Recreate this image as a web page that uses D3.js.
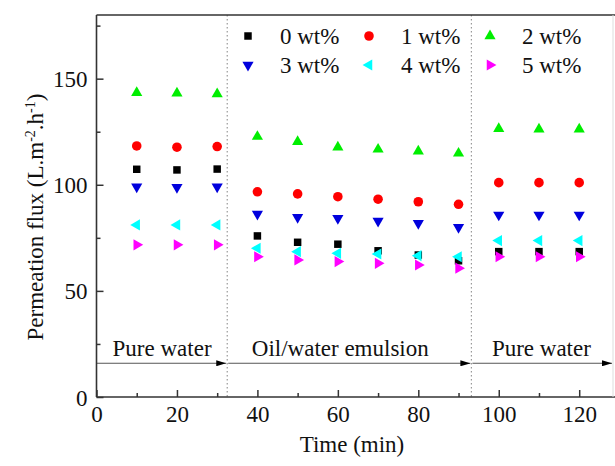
<!DOCTYPE html>
<html>
<head>
<meta charset="utf-8">
<script src="https://cdn.jsdelivr.net/npm/d3@7"></script>
<style>
  body { margin: 0; background: #fff; }
  svg { display: block; font-family: "Liberation Serif", "Times New Roman", serif; }
</style>
</head>
<body>
<div class="canvas"></div>
<script>
// time points (min)
const times = [10, 20, 30, 40, 50, 60, 70, 80, 90, 100, 110, 120];

// permeation flux for each membrane loading
const wt0 = [107.3, 107.0, 107.4, 75.9, 72.9, 72.0, 68.9, 66.9, 64.2, 68.5, 68.5, 68.5];
const wt1 = [118.3, 117.7, 118.0, 96.7, 95.7, 94.4, 93.2, 92.0, 90.8, 101.0, 101.0, 101.0];
const wt2 = [143.4, 143.1, 142.8, 122.7, 120.3, 117.7, 116.7, 115.8, 114.8, 126.4, 126.2, 126.2];
const wt3 = [99.1, 98.8, 99.1, 86.2, 84.7, 84.2, 82.9, 81.9, 80.0, 85.8, 85.8, 85.8];
const wt4 = [81.1, 81.1, 81.1, 70.1, 68.5, 67.7, 67.4, 66.6, 66.1, 73.7, 73.7, 73.7];
const wt5 = [71.7, 71.7, 71.7, 66.1, 64.6, 63.8, 63.0, 62.2, 60.7, 66.1, 66.1, 66.1];

const seriesNames = ['0 wt%', '1 wt%', '2 wt%', '3 wt%', '4 wt%', '5 wt%'];
const seriesValues = [wt0, wt1, wt2, wt3, wt4, wt5];

// stage boundaries and labels
const stageBounds = [0, 32.5, 93.2, 128.4];
const stageLabels = ['Pure water', 'Oil/water emulsion', 'Pure water'];
const stageLabelX = [16.3, 60.6, 110.6];

const xTicksMajor = [0, 20, 40, 60, 80, 100, 120];
const yTicksMajor = [0, 50, 100, 150];

const W = 615, H = 466;
const svg = d3.select('.canvas').append('svg')
    .attr('width', W).attr('height', H);

const x = d3.scaleLinear().domain([0, 128.4]).range([96.5, 613]);
const y = d3.scaleLinear().domain([0, 180]).range([397, 15]);

const colors = ['#000000', '#ff0000', '#00ee00', '#0000dd', '#00ffff', '#ff00ff'];
const shapes = [
    {type: d3.symbolSquare, size: 56, rot: 0},
    {type: d3.symbolCircle, size: 72, rot: 0},
    {type: d3.symbolTriangle, size: 54, rot: 0},
    {type: d3.symbolTriangle, size: 54, rot: 180},
    {type: d3.symbolTriangle, size: 54, rot: -90},
    {type: d3.symbolTriangle, size: 54, rot: 90}
];

// dotted stage separators
svg.selectAll('line.sep')
    .data(stageBounds.slice(1, 3))
    .enter().append('line')
    .attr('x1', d => x(d)).attr('x2', d => x(d))
    .attr('y1', y(180)).attr('y2', y(0))
    .attr('stroke', '#999').attr('stroke-width', 1.2)
    .attr('stroke-dasharray', '1.5,2.5');

// arrows along the bottom
svg.append('defs').append('marker')
    .attr('id', 'arr')
    .attr('viewBox', '0 0 10 6')
    .attr('refX', 10).attr('refY', 3)
    .attr('markerWidth', 10).attr('markerHeight', 6)
    .attr('markerUnits', 'userSpaceOnUse')
    .attr('orient', 'auto')
    .append('path').attr('d', 'M0,0L10,3L0,6Z').attr('fill', '#000');

const arrowY = 15.9;
svg.selectAll('line.arrow')
    .data(d3.pairs(stageBounds))
    .enter().append('line')
    .attr('x1', d => x(d[0]) + (d[0] === 0 ? 0 : 1))
    .attr('x2', d => x(d[1]) - 1)
    .attr('y1', y(arrowY)).attr('y2', y(arrowY))
    .attr('stroke', '#555').attr('stroke-width', 1)
    .attr('marker-end', 'url(#arr)');

svg.selectAll('text.stage')
    .data(stageLabels)
    .enter().append('text')
    .attr('x', (d, i) => x(stageLabelX[i]))
    .attr('y', 356)
    .attr('text-anchor', 'middle')
    .attr('font-size', 23)
    .attr('fill', '#111')
    .text(d => d);

// frame and axes
const frame = svg.append('g').attr('stroke', '#333').attr('stroke-width', 1.6).attr('fill', 'none');
frame.append('line').attr('x1', x(0)).attr('x2', W).attr('y1', y(0)).attr('y2', y(0));
frame.append('line').attr('x1', x(0)).attr('x2', x(0)).attr('y1', y(0)).attr('y2', y(180));
frame.append('line').attr('x1', x(0)).attr('x2', W).attr('y1', y(180)).attr('y2', y(180));
svg.append('line').attr('x1', 613).attr('x2', 613).attr('y1', y(180)).attr('y2', y(0))
    .attr('stroke', '#ddd').attr('stroke-width', 1);

const xAxis = d3.axisBottom(x).tickValues(d3.range(0, 121, 10))
    .tickSize(0).tickFormat('');
const gx = svg.append('g').attr('transform', `translate(0,${y(0)})`).call(xAxis);
gx.select('.domain').remove();
gx.selectAll('.tick line')
    .attr('y2', d => xTicksMajor.includes(d) ? -7 : -4)
    .attr('stroke', '#333').attr('stroke-width', 1.5);
gx.selectAll('.tick').filter(d => xTicksMajor.includes(d))
    .append('text')
    .attr('y', 25).attr('fill', '#111')
    .attr('font-size', 23).attr('font-family', '"Liberation Serif", serif')
    .attr('text-anchor', 'middle')
    .text(d => d);

const yAxis = d3.axisLeft(y).tickValues(d3.range(0, 176, 25))
    .tickSize(0).tickFormat('');
const gy = svg.append('g').attr('transform', `translate(${x(0)},0)`).call(yAxis);
gy.select('.domain').remove();
gy.selectAll('.tick line')
    .attr('x2', d => yTicksMajor.includes(d) ? 7 : 4)
    .attr('stroke', '#333').attr('stroke-width', 1.5);
gy.selectAll('.tick').filter(d => yTicksMajor.includes(d))
    .append('text')
    .attr('x', -9).attr('dy', '0.35em').attr('fill', '#111')
    .attr('font-size', 23).attr('font-family', '"Liberation Serif", serif')
    .attr('text-anchor', 'end')
    .text(d => d);

// axis titles
svg.append('text')
    .attr('x', 352).attr('y', 452)
    .attr('text-anchor', 'middle').attr('font-size', 23).attr('fill', '#111')
    .text('Time (min)');

const yt = svg.append('text')
    .attr('transform', 'translate(43,217) rotate(-90)')
    .attr('text-anchor', 'middle').attr('font-size', 23).attr('fill', '#111');
yt.append('tspan').text('Permeation flux (L.m');
yt.append('tspan').attr('dy', -8).attr('font-size', 14).text('-2');
yt.append('tspan').attr('dy', 8).text('.h');
yt.append('tspan').attr('dy', -8).attr('font-size', 14).text('-1');
yt.append('tspan').attr('dy', 8).text(')');

// data points
const sym = d3.symbol();
seriesValues.forEach((vals, i) => {
    const s = shapes[i];
    svg.append('g').selectAll('path')
        .data(vals)
        .enter().append('path')
        .attr('d', sym.type(s.type).size(s.size)())
        .attr('transform', (d, j) => `translate(${x(times[j])},${y(d)}) rotate(${s.rot})`)
        .attr('fill', colors[i]);
});

// legend
const legX = [248, 369, 490];
const legY = [36, 65];
const leg = svg.append('g');
seriesNames.forEach((name, i) => {
    const cx = legX[i % 3], cy = legY[Math.floor(i / 3)];
    const s = shapes[i];
    leg.append('path')
        .attr('d', sym.type(s.type).size(s.size)())
        .attr('transform', `translate(${cx},${cy}) rotate(${s.rot})`)
        .attr('fill', colors[i]);
    leg.append('text')
        .attr('x', cx + 32).attr('y', cy + 8)
        .attr('font-size', 23).attr('fill', '#111')
        .text(name);
});
</script>
</body>
</html>
